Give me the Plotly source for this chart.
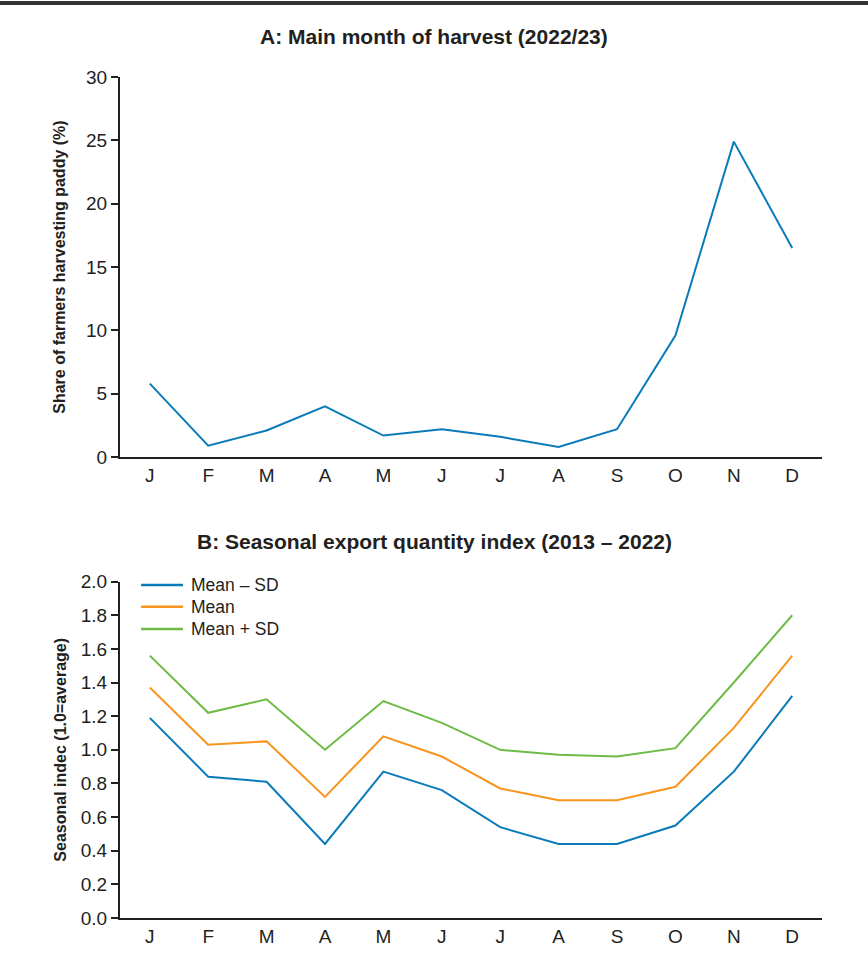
import plotly.graph_objects as go
from plotly.subplots import make_subplots

# Month labels and data
months = ["J", "F", "M", "A", "M", "J", "J", "A", "S", "O", "N", "D"]
month_idx = list(range(len(months)))

harvest_share = [5.8, 0.9, 2.1, 4.0, 1.7, 2.2, 1.6, 0.8, 2.2, 9.6, 24.9, 16.5]

mean_minus_sd = [1.19, 0.84, 0.81, 0.44, 0.87, 0.76, 0.54, 0.44, 0.44, 0.55, 0.87, 1.32]
mean_index = [1.37, 1.03, 1.05, 0.72, 1.08, 0.96, 0.77, 0.70, 0.70, 0.78, 1.13, 1.56]
mean_plus_sd = [1.56, 1.22, 1.30, 1.00, 1.29, 1.16, 1.00, 0.97, 0.96, 1.01, 1.40, 1.80]

series_names = ["Mean \u2013 SD", "Mean", "Mean + SD"]

BLUE = "#0a7bb9"
ORANGE = "#f7941e"
GREEN = "#6dbb45"
INK = "#231f20"
NARROW = "Liberation Sans Narrow, Arial Narrow, sans-serif"
BOLD = "Liberation Sans, Arial, sans-serif"

fig = make_subplots(rows=2, cols=1, vertical_spacing=0.0)

fig.add_trace(go.Scatter(x=month_idx, y=harvest_share, mode="lines",
                         line=dict(color=BLUE, width=2), showlegend=False),
              row=1, col=1)

series = list(zip(series_names, [mean_minus_sd, mean_index, mean_plus_sd],
                  [BLUE, ORANGE, GREEN]))
for name, vals, col in series:
    fig.add_trace(go.Scatter(x=month_idx, y=vals, mode="lines", name=name,
                             line=dict(color=col, width=2), showlegend=False),
                  row=2, col=1)

xaxis_common = dict(
    range=[-0.51, 11.51], tickmode="array", tickvals=month_idx, ticktext=months,
    showline=True, linecolor=INK, linewidth=2, ticks="", showgrid=False,
    zeroline=False, tickfont=dict(family=NARROW, size=19, color=INK),
)
yaxis_common = dict(
    showline=True, linecolor=INK, linewidth=2, ticks="outside", ticklen=7,
    tickwidth=1.5, tickcolor=INK, showgrid=False, zeroline=False,
    tickfont=dict(family=NARROW, size=19, color=INK),
)

fig.update_xaxes(**xaxis_common, domain=[0, 1], row=1, col=1)
fig.update_xaxes(**xaxis_common, domain=[0, 1], row=2, col=1)

fig.update_yaxes(**yaxis_common, range=[0, 30], tickvals=[0, 5, 10, 15, 20, 25, 30],
                 domain=[0.548, 1.0],
                 title=dict(text="<b>Share of farmers harvesting paddy (%)</b>",
                            font=dict(family=NARROW, size=16, color=INK), standoff=16),
                 row=1, col=1)
fig.update_yaxes(**yaxis_common, range=[0, 2.0],
                 tickvals=[0, 0.2, 0.4, 0.6, 0.8, 1.0, 1.2, 1.4, 1.6, 1.8, 2.0],
                 tickformat=".1f", domain=[0.0, 0.4],
                 title=dict(text="<b>Seasonal indec (1.0=average)</b>",
                            font=dict(family=NARROW, size=16, color=INK), standoff=10),
                 row=2, col=1)

fig.update_layout(
    width=868, height=960,
    margin=dict(l=120, r=46, t=77, b=42),
    paper_bgcolor="white", plot_bgcolor="white",
    showlegend=False,
    shapes=[dict(type="line", xref="paper", yref="paper",
                 x0=-120 / 702, x1=(868 - 120) / 702,
                 y0=1 + 74 / 841, y1=1 + 74 / 841,
                 line=dict(color="#333333", width=4))],
)

# Panel titles
for text, y_px in [("<b>A: Main month of harvest (2022/23)</b>", 36),
                   ("<b>B: Seasonal export quantity index (2013 \u2013 2022)</b>", 541)]:
    fig.add_annotation(text=text, xref="paper", yref="paper",
                       x=(434 - 120) / 702, y=(918 - y_px) / 841,
                       xanchor="center", yanchor="middle", showarrow=False,
                       font=dict(family=BOLD, size=21, color=INK))

# Compact legend inside panel B (top-left corner)
legend_rows = [0.990, 0.925, 0.859]
for (name, _, col), ly in zip(series, legend_rows):
    fig.add_shape(type="line", xref="x2 domain", yref="y2 domain",
                  x0=0.030, x1=0.0897, y0=ly, y1=ly,
                  line=dict(color=col, width=2.5))
    fig.add_annotation(text=name, xref="x2 domain", yref="y2 domain",
                       x=0.098, y=ly, xanchor="left", yanchor="middle",
                       showarrow=False,
                       font=dict(family=NARROW, size=17.5, color=INK))

fig.write_html("out.html")
